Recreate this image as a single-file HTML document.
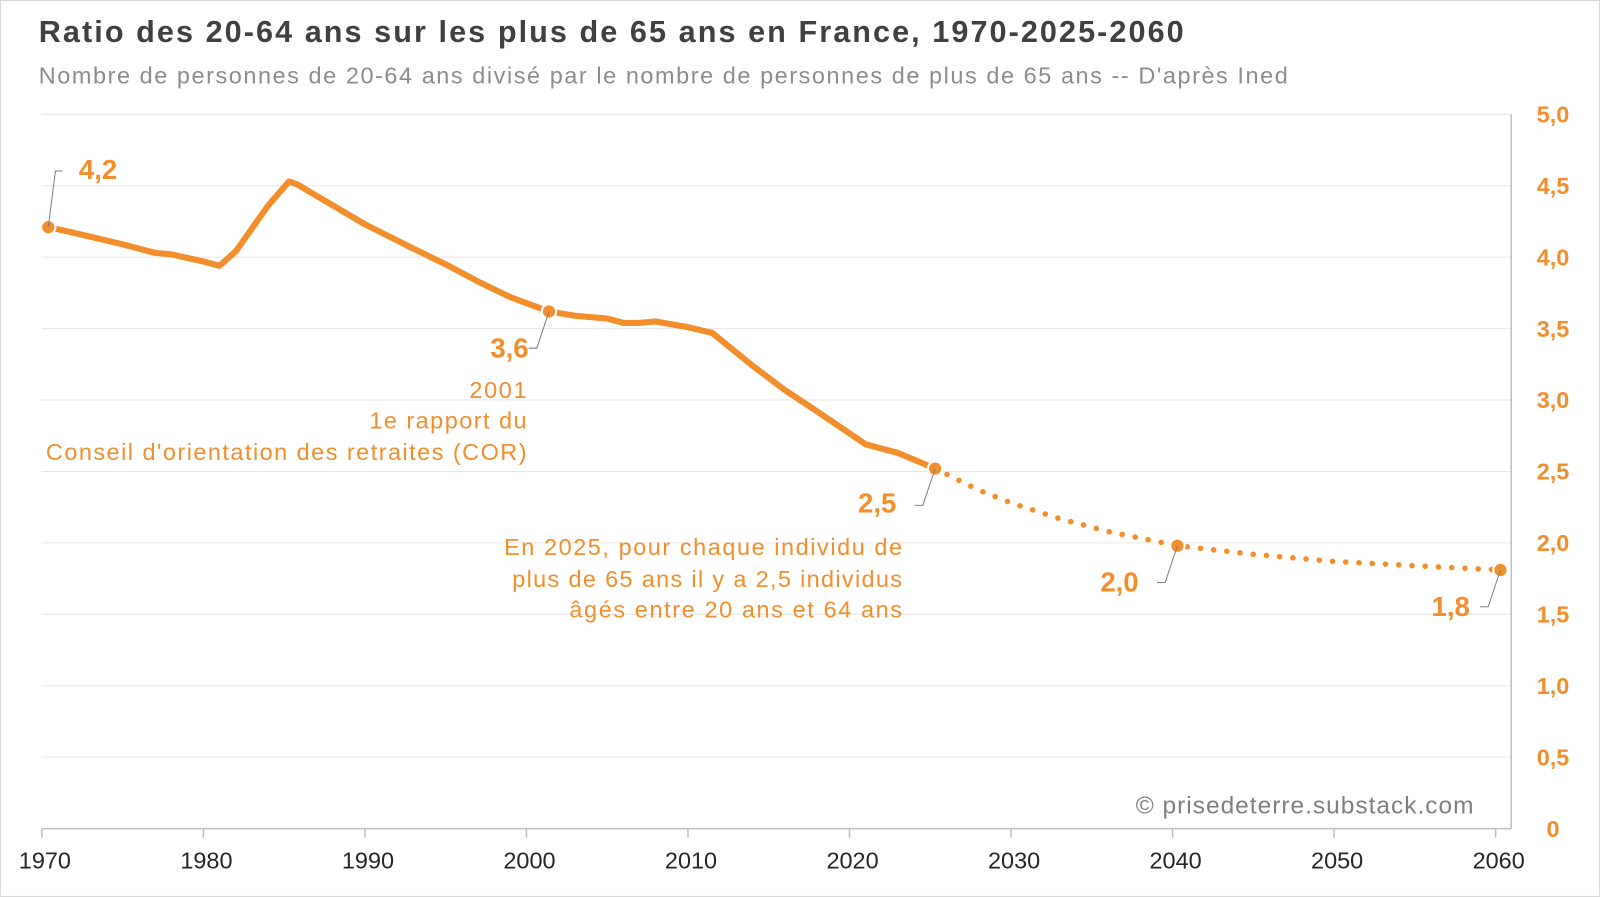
<!DOCTYPE html>
<html><head><meta charset="utf-8"><style>
html,body{margin:0;padding:0;background:#fff;}
svg{display:block;font-family:"Liberation Sans",sans-serif;}
</style></head><body>
<svg id="chart" width="1600" height="897" viewBox="0 0 1568 879" xmlns="http://www.w3.org/2000/svg">
<rect x="0.5" y="0.5" width="1567" height="878" fill="#fff" stroke="#d9d9d9"/>
<text x="38" y="41" font-size="30" font-weight="bold" fill="#404040" textLength="1122" lengthAdjust="spacing">Ratio des 20-64 ans sur les plus de 65 ans en France, 1970-2025-2060</text>
<text x="38" y="82" font-size="23" fill="#8c8c8c" textLength="1224" lengthAdjust="spacing">Nombre de personnes de 20-64 ans divisé par le nombre de personnes de plus de 65 ans -- D'après Ined</text>
<g id="grid"></g><g id="axes"></g><g id="series"></g><g id="annot"></g>
<text x="1113" y="797" font-size="24" fill="#7f7f7f" textLength="331" lengthAdjust="spacing">© prisedeterre.substack.com</text>
</svg>
<script>
const yTicks=[0,0.5,1,1.5,2,2.5,3,3.5,4,4.5,5];
const yTickLabels=["0","0,5","1,0","1,5","2,0","2,5","3,0","3,5","4,0","4,5","5,0"];
const xTicks=[1970,1980,1990,2000,2010,2020,2030,2040,2050,2060];
const histYears=[1970.4,1972,1975,1977,1978,1980,1981,1982,1983,1984,1985.3,1985.8,1987,1990,1993,1995,1997,1999,2001.4,2003,2005,2006,2007,2008,2010,2011.5,2014,2016,2018,2021,2023,2025.3];
const histValues=[4.21,4.17,4.09,4.03,4.02,3.97,3.94,4.04,4.2,4.36,4.53,4.51,4.43,4.23,4.06,3.95,3.83,3.72,3.62,3.59,3.57,3.54,3.54,3.55,3.51,3.47,3.24,3.07,2.92,2.69,2.63,2.52];
const projYears=[2025.3,2028,2030,2033,2036,2040.3,2045,2050,2055,2060.3];
const projValues=[2.52,2.37,2.28,2.17,2.08,1.98,1.92,1.87,1.84,1.81];
const ns="http://www.w3.org/2000/svg";
const X0=41,XS=15.83,Y0=812,YS=140;
function xs(y){return X0+(y-1970)*XS;}
function ys(v){return Y0-v*YS;}
function mk(t,a,p){const e=document.createElementNS(ns,t);for(const k in a)e.setAttribute(k,a[k]);document.getElementById(p).appendChild(e);return e;}
const C="#f28e2b",AX="#bfbfbf";
yTicks.forEach((v,i)=>{
 if(v>0){const g=mk('line',{x1:41,x2:1481,y1:ys(v),y2:ys(v),stroke:"#e6e6e6","stroke-width":1},'grid');
 
 }
 const t=mk('text',{x:1522,y:ys(v)+8,"font-size":23,"font-weight":"bold",fill:C,"text-anchor":"middle"},'axes');t.textContent=yTickLabels[i];
 
 
});
let a=mk('line',{x1:41,x2:1481,y1:Y0,y2:Y0,stroke:AX,"stroke-width":1.5},'axes');


a=mk('line',{x1:1481,x2:1481,y1:ys(5),y2:Y0,stroke:AX,"stroke-width":1.5},'axes');


xTicks.forEach(yr=>{
 const l=mk('line',{x1:xs(yr),x2:xs(yr),y1:Y0,y2:Y0+9,stroke:AX,"stroke-width":1.5},'axes');
 
 
 const t=mk('text',{x:xs(yr)+3,y:851,"font-size":23,fill:"#262626","text-anchor":"middle"},'axes');t.textContent=yr;
 
 
});
let p=mk('polyline',{points:histYears.map((y,i)=>xs(y)+","+ys(histValues[i])).join(" "),fill:"none",stroke:C,"stroke-width":6,"stroke-linejoin":"round","stroke-linecap":"round"},'series');


p=mk('polyline',{points:projYears.map((y,i)=>xs(y)+","+ys(projValues[i])).join(" "),fill:"none",stroke:C,"stroke-width":5.5,"stroke-dasharray":"0 13","stroke-linecap":"round"},'series');


const mYears=[histYears[0],2001.4,2025.3,2040.3,2060.3];
const mValues=[histValues[0],3.62,2.52,1.98,1.81];
const mLabels=["4,2","3,6","2,5","2,0","1,8"];
const lblOff=[[30,-47,"start"],[-20,45,"end"],[-38,43,"end"],[-38,45,"end"],[-30,45,"end"]];
mYears.forEach((yr,i)=>{
 const cx=xs(yr),cy=ys(mValues[i]),o=lblOff[i];
 const lx=cx+o[0],ly=cy+o[1];
 const ld=mk('polyline',{points:i==0?`${cx},${cy} ${cx+7},${cy-55} ${cx+14},${cy-55}`:`${cx},${cy} ${cx-12},${cy+36} ${cx-20},${cy+36}`,fill:"none",stroke:"#7f7f7f","stroke-width":1},'annot');
 
 
 const c=mk('circle',{cx:cx,cy:cy,r:7,fill:C,stroke:"#fff","stroke-width":2},'series');
 
 
 const t=mk('text',{x:lx,y:ly,"font-size":27,"font-weight":"bold",fill:C,"text-anchor":o[2]},'annot');t.textContent=mLabels[i];
 
 
});
const notes=[["2001",460,390,56],["1e rapport du",362,420,154],["Conseil d'orientation des retraites (COR)",45,451,471],["En 2025, pour chaque individu de",494,544,390],["plus de 65 ans il y a 2,5 individus",502,575,382],["âgés entre 20 ans et 64 ans",558,605,326]];
notes.forEach(n=>{const t=mk('text',{x:n[1],y:n[2],"font-size":23,fill:C,textLength:n[3],lengthAdjust:"spacing"},'annot');t.textContent=n[0];
 
 });
</script>
</body></html>
